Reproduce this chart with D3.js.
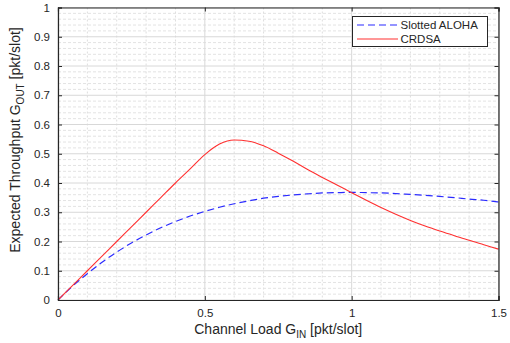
<!DOCTYPE html>
<html>
<head>
<meta charset="utf-8">
<script src="https://cdn.jsdelivr.net/npm/d3@7"></script>
<style>
	body { margin: 0; background: white; }
	text { font-family: "Liberation Sans", Arial, Helvetica, sans-serif; fill: #262626; }
</style>
</head>
<body>
<script>
// offered load G (pkt/slot)
var loads = [0, 0.05, 0.1, 0.15, 0.2, 0.25, 0.3, 0.35, 0.4, 0.45, 0.5, 0.55, 0.6, 0.65, 0.7, 0.75,
	0.8, 0.85, 0.9, 0.95, 1.0, 1.05, 1.1, 1.15, 1.2, 1.25, 1.3, 1.35, 1.4, 1.45, 1.5]

var aloha = [0, 0.048, 0.090, 0.129, 0.164, 0.195, 0.222, 0.247, 0.268, 0.287, 0.303, 0.317, 0.329,
	0.339, 0.348, 0.354, 0.359, 0.363, 0.366, 0.367, 0.368, 0.367, 0.366, 0.364, 0.361, 0.358,
	0.354, 0.350, 0.345, 0.341, 0.335]

var crdsa = [0, 0.05, 0.1, 0.15, 0.2, 0.25, 0.3, 0.35, 0.4, 0.448, 0.497, 0.533, 0.547, 0.543,
	0.527, 0.502, 0.475, 0.446, 0.419, 0.393, 0.367, 0.341, 0.316, 0.293, 0.272, 0.253, 0.236,
	0.220, 0.204, 0.189, 0.174]

var seriesNames = ['Slotted ALOHA', 'CRDSA']
var xTicks = [0, 0.5, 1, 1.5]
var yTicks = [0, 0.1, 0.2, 0.3, 0.4, 0.5, 0.6, 0.7, 0.8, 0.9, 1]

var width = 510,
	height = 343
var margin = {top: 7.5, right: 11.5, bottom: 43, left: 58}
var w = width - margin.left - margin.right,
	h = height - margin.top - margin.bottom

var svg = d3.select('body').append('svg')
	.attr('width', width)
	.attr('height', height)

var g = svg.append('g')
	.attr('transform', 'translate(' + margin.left + ',' + margin.top + ')')

var x = d3.scaleLinear().domain([0, 1.5]).range([0, w])
var y = d3.scaleLinear().domain([0, 1]).range([h, 0])

// minor grid
g.append('g').selectAll('line')
	.data(d3.range(0, 1.5001, 0.1).filter(d => Math.abs(d * 2 - Math.round(d * 2)) > 1e-6))
	.enter().append('line')
		.attr('x1', d => x(d)).attr('x2', d => x(d))
		.attr('y1', 0).attr('y2', h)
		.attr('stroke', '#dedede')
		.attr('stroke-dasharray', '2,2')

g.append('g').selectAll('line')
	.data(d3.range(0, 1.0001, 0.02).filter(d => Math.abs(d * 10 - Math.round(d * 10)) > 1e-6))
	.enter().append('line')
		.attr('x1', 0).attr('x2', w)
		.attr('y1', d => y(d)).attr('y2', d => y(d))
		.attr('stroke', '#e3e3e3')
		.attr('stroke-dasharray', '3,2')

// major grid
g.append('g').selectAll('line')
	.data(xTicks)
	.enter().append('line')
		.attr('x1', d => x(d)).attr('x2', d => x(d))
		.attr('y1', 0).attr('y2', h)
		.attr('stroke', '#d8d8d8')

g.append('g').selectAll('line')
	.data(yTicks)
	.enter().append('line')
		.attr('x1', 0).attr('x2', w)
		.attr('y1', d => y(d)).attr('y2', d => y(d))
		.attr('stroke', '#d8d8d8')

// curves
var line = d3.line()
	.x((d, i) => x(loads[i]))
	.y(d => y(d))
	.curve(d3.curveMonotoneX)

g.append('path')
	.datum(aloha)
	.attr('d', line)
	.attr('fill', 'none')
	.attr('stroke', '#2b2bff')
	.attr('stroke-width', 1.2)
	.attr('stroke-dasharray', '7,4')

g.append('path')
	.datum(crdsa)
	.attr('d', line)
	.attr('fill', 'none')
	.attr('stroke', '#ff3030')
	.attr('stroke-width', 1.1)

// axes (ticks inside, box on)
var fs = '11.5px'
g.append('g')
	.attr('transform', 'translate(0,' + h + ')')
	.call(d3.axisBottom(x).tickValues(xTicks).tickSize(-4).tickPadding(9).tickFormat(d3.format('')))
g.append('g')
	.call(d3.axisLeft(y).tickValues(yTicks).tickSize(-4).tickPadding(8).tickFormat(d3.format('')))
g.append('g')
	.call(d3.axisTop(x).tickValues(xTicks).tickSize(-4).tickFormat(''))
g.append('g')
	.attr('transform', 'translate(' + w + ',0)')
	.call(d3.axisRight(y).tickValues(yTicks).tickSize(-4).tickFormat(''))

g.selectAll('.domain').attr('stroke', '#262626').attr('stroke-width', 1.2)
g.selectAll('.tick line').attr('stroke', '#262626')
g.selectAll('.tick text').style('font-size', fs).style('fill', '#262626')
	.attr('font-family', null)

// axis labels
var xl = svg.append('text')
	.attr('x', margin.left + w / 2)
	.attr('y', 334)
	.attr('text-anchor', 'middle')
	.style('font-size', '14px')
xl.append('tspan').text('Channel Load G')
xl.append('tspan').text('IN').attr('dy', 4).style('font-size', '10px')
xl.append('tspan').text(' [pkt/slot]').attr('dy', -4)

var yl = svg.append('text')
	.attr('transform', 'translate(19.5,140) rotate(-90)')
	.attr('text-anchor', 'middle')
	.style('font-size', '14px')
yl.append('tspan').text('Expected Throughput  G')
yl.append('tspan').text('OUT').attr('dy', 4).style('font-size', '10px')
yl.append('tspan').text(' [pkt/slot]').attr('dy', -4)

// legend
var legend = svg.append('g')
	.attr('transform', 'translate(352.5,16.5)')

legend.append('rect')
	.attr('width', 135)
	.attr('height', 30)
	.attr('fill', 'white')
	.attr('stroke', '#262626')
	.attr('stroke-width', 1)

var legendColor = ['#2b2bff', '#ff3030']
var legendDash = ['7,4', null]

legend.selectAll('legend_lines')
	.data(seriesNames)
	.enter()
	.append('line')
		.attr('x1', 4.5).attr('x2', 45.5)
		.attr('y1', (d, i) => 8.5 + i * 14)
		.attr('y2', (d, i) => 8.5 + i * 14)
		.attr('stroke', (d, i) => legendColor[i])
		.attr('stroke-width', 1.2)
		.attr('stroke-dasharray', (d, i) => legendDash[i])

legend.selectAll('legend_labels')
	.data(seriesNames)
	.enter()
	.append('text')
		.attr('x', 48)
		.attr('y', (d, i) => 12.5 + i * 14)
		.style('font-size', '11.5px')
		.text(d => d)
</script>
</body>
</html>
